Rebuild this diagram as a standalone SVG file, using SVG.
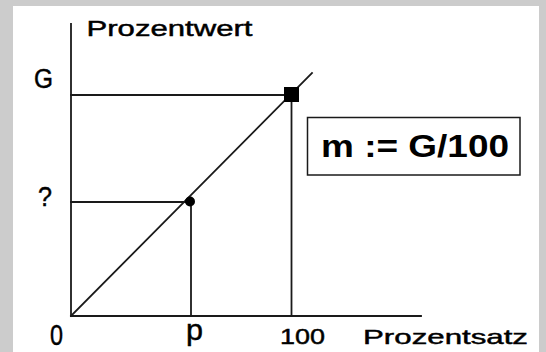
<svg xmlns="http://www.w3.org/2000/svg" width="546" height="352" viewBox="0 0 546 352">
<style>
.ln{stroke:#1a1a1a;stroke-width:1.8;fill:none;stroke-linecap:square}
.t{font-family:"Liberation Sans",Arial,sans-serif;fill:#000}
.n{stroke:#000;stroke-width:0.45}
</style>
<rect x="0" y="0" width="546" height="352" fill="#cccccc"/>
<rect x="13" y="6" width="526" height="346" fill="#ffffff"/>
<g id="connectors">
<line class="ln" x1="71" y1="24" x2="71" y2="316"/>
<line class="ln" x1="71" y1="316" x2="421" y2="316"/>
<line class="ln" x1="71" y1="95" x2="291" y2="95"/>
<line class="ln" x1="291.5" y1="95" x2="291.5" y2="316"/>
<line class="ln" x1="71" y1="202" x2="190" y2="202"/>
<line class="ln" x1="191" y1="202" x2="191" y2="316"/>
<line class="ln" x1="71" y1="316" x2="312" y2="73"/>
</g>
<g id="pointG"><rect x="284" y="87" width="15" height="15" fill="#000"/></g>
<g id="pointP"><circle cx="190" cy="201.5" r="5" fill="#000"/></g>
<g id="formula">
<rect x="307.5" y="117.5" width="212.5" height="57.5" fill="#fff" stroke="#1a1a1a" stroke-width="1.5"/>
<text class="t" x="321" y="157" font-size="32" font-weight="bold" textLength="188" lengthAdjust="spacingAndGlyphs">m := G/100</text>
</g>
<g id="labels">
<text class="t n" x="86.5" y="36" font-size="22" textLength="166" lengthAdjust="spacingAndGlyphs">Prozentwert</text>
<text class="t n" x="34" y="88" font-size="27" textLength="19" lengthAdjust="spacingAndGlyphs">G</text>
<text class="t n" x="38" y="206" font-size="27" textLength="14" lengthAdjust="spacingAndGlyphs">?</text>
<text class="t n" x="50" y="345" font-size="30" textLength="13" lengthAdjust="spacingAndGlyphs">0</text>
<text class="t n" x="186" y="340" font-size="30" textLength="17" lengthAdjust="spacingAndGlyphs">p</text>
<text class="t n" x="280" y="344" font-size="22" textLength="45" lengthAdjust="spacingAndGlyphs">100</text>
<text class="t n" x="363" y="344" font-size="21" textLength="165" lengthAdjust="spacingAndGlyphs">Prozentsatz</text>
</g>
</svg>
